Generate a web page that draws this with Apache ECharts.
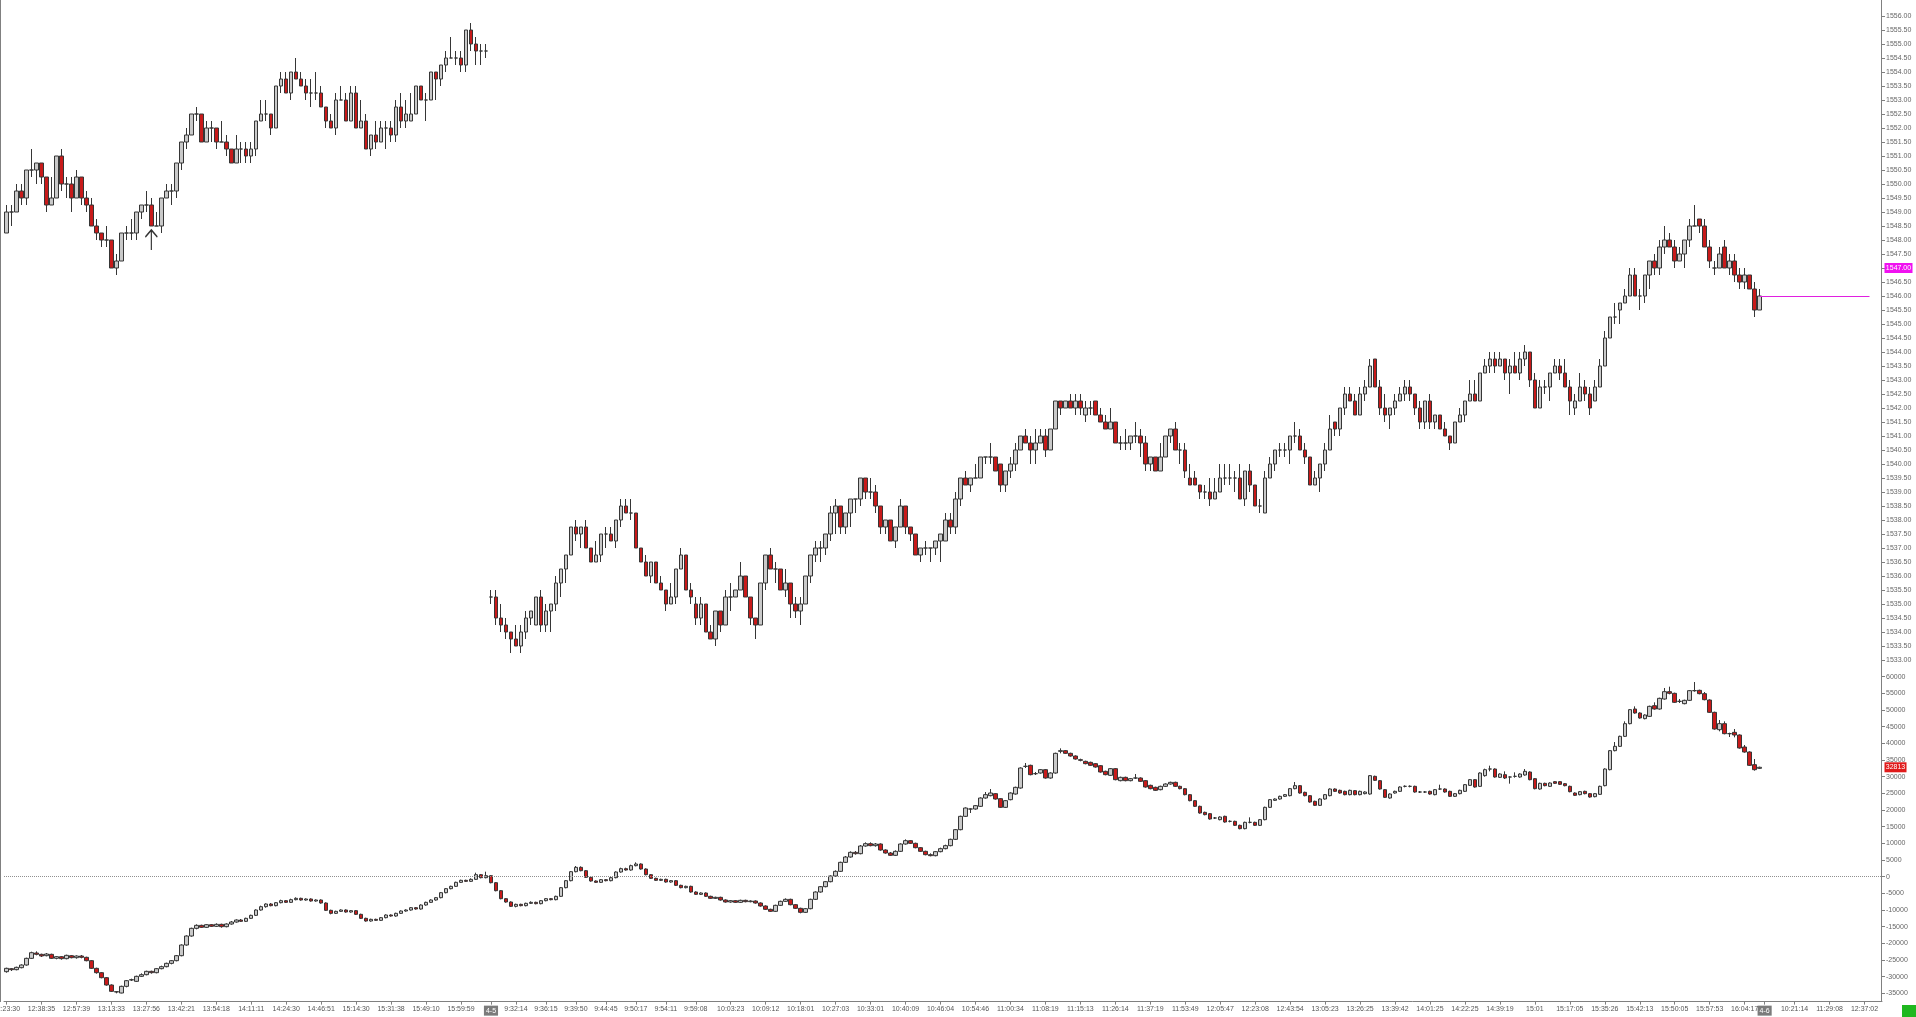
<!DOCTYPE html>
<html><head><meta charset="utf-8">
<script src="https://cdn.jsdelivr.net/npm/echarts/dist/echarts.min.js"></script>
<style>html,body{margin:0;padding:0;background:#fff;overflow:hidden}#c{width:1916px;height:1017px}</style>
</head><body><div id="c"></div>
<script>
// ---------- DATA: [open, close, low, high] ----------
const priceSession1 = [
[1548.25,1549,1548.25,1549.25],[1549,1549,1548.5,1549.25],[1549,1549.75,1549,1550],[1549.75,1549.5,1549.25,1550],[1549.5,1550.5,1549.25,1550.5],
[1550.5,1550.5,1550.25,1551.25],[1550.5,1550.75,1550,1550.75],[1550.75,1550.25,1550,1550.75],[1550.25,1549.25,1549,1550.25],[1549.25,1549.5,1549.25,1550.25],
[1549.5,1551,1549.5,1551],[1551,1550,1549.75,1551.25],[1550,1550,1549.5,1550.25],[1550,1549.5,1549,1550.25],[1549.5,1550.25,1549.5,1550.5],
[1550.25,1549.5,1549.25,1550.25],[1549.5,1549.25,1549,1549.75],[1549.25,1548.5,1548.5,1549.5],[1548.5,1548.25,1548,1548.75],[1548.25,1548,1547.75,1548.25],
[1548,1548,1547.75,1548.5],[1548,1547,1547,1548],[1547,1547.25,1546.75,1547.5],[1547.25,1548.25,1547.25,1548.25],[1548.25,1548.25,1548,1548.5],
[1548.25,1548.25,1548,1548.75],[1548.25,1549,1548,1549],[1549,1549.25,1548.75,1549.25],[1549.25,1549.25,1549,1549.75],[1549.25,1548.5,1548.5,1549.5],
[1548.5,1548.5,1548.5,1549],[1548.5,1549.5,1548.25,1549.5],[1549.5,1549.75,1549.5,1550],[1549.75,1549.75,1549.25,1550],[1549.75,1550.75,1549.5,1550.75],
[1550.75,1551.5,1550.5,1551.5],[1551.5,1551.75,1551.25,1552],[1551.75,1552.5,1551.75,1552.5],[1552.5,1552.5,1552.25,1552.75],[1552.5,1551.5,1551.5,1552.5],
[1551.5,1552,1551.5,1552.25],[1552,1552,1551.5,1552.25],[1552,1551.5,1551.25,1552],[1551.5,1551.5,1551.5,1552.25],[1551.5,1551.25,1551,1551.75],
[1551.25,1550.75,1550.75,1551.25],[1550.75,1551.25,1550.75,1551.75],[1551.25,1551.25,1550.75,1551.5],[1551.25,1551,1550.75,1551.5],[1551,1551.25,1550.75,1551.5],
[1551.25,1552.25,1551,1552.25],[1552.25,1552.5,1552.25,1553],[1552.5,1552.5,1552.25,1553],[1552.5,1552,1551.75,1552.5],[1552,1553.5,1552,1553.5],
[1553.5,1553.75,1553.25,1554],[1553.75,1553.25,1553.25,1554],[1553.25,1554,1553,1554],[1554,1553.75,1553.75,1554.5],[1553.75,1553.5,1553.5,1554],
[1553.5,1553.25,1553,1553.75],[1553.25,1553.25,1552.75,1553.75],[1553.25,1553.25,1553,1554],[1553.25,1552.75,1552.75,1553.5],[1552.75,1552.25,1552,1552.75],
[1552.25,1552,1552,1552.5],[1552,1553,1551.75,1553.25],[1553,1553,1553,1553.5],[1553,1552.25,1552.25,1553.25],[1552.25,1553.25,1552.25,1553.5],
[1553.25,1552,1552,1553.5],[1552,1552.25,1552,1553],[1552.25,1551.25,1551.25,1552.5],[1551.25,1551.75,1551,1551.75],[1551.75,1551.5,1551.25,1552.25],
[1551.5,1552,1551.5,1552.25],[1552,1552,1551.25,1552.25],[1552,1551.75,1551.5,1552.25],[1551.75,1552.75,1551.5,1553],[1552.75,1552.25,1552,1553.25],
[1552.25,1552.5,1552,1553],[1552.25,1552.5,1552.25,1553.25],[1552.5,1553.5,1552.5,1553.5],[1553.5,1553,1553,1553.5],[1553,1553,1552.25,1553.25],
[1553,1554,1553,1554],[1554,1553.75,1553,1554],[1553.75,1554.25,1553.5,1554.25],[1554.25,1554.5,1554,1554.75],[1554.5,1554.5,1554.5,1555.25],
[1554.5,1554.5,1554.25,1554.75],[1554.5,1554.25,1554,1554.75],[1554.25,1555.5,1554,1555.5],[1555.5,1555,1554.75,1555.75],[1555,1554.75,1554.25,1555.25],
[1554.75,1554.75,1554.25,1555],[1554.75,1554.75,1554.5,1555]
];
const priceSession2a = [
[1535.25,1535.25,1535,1535.5],[1535.25,1534.5,1534.25,1535.5],[1534.5,1534.25,1534,1535],[1534.25,1534,1533.75,1534.5],[1534,1533.75,1533.25,1534],
[1533.75,1533.5,1533.5,1534.25],[1533.5,1534,1533.25,1534.25],[1534,1534.5,1533.75,1534.75],[1534.5,1534.75,1534.25,1534.75],[1534.25,1535.25,1534.25,1535.25],
[1535.25,1534.25,1534,1535.5],[1534.25,1534.75,1534,1535],[1534.75,1535,1534,1535],[1535,1535.75,1534.75,1536],[1535.75,1536.25,1535.25,1536.25],
[1536.25,1536.75,1535.75,1536.75],[1536.75,1537.75,1536.75,1537.75],[1537.75,1537.5,1537.25,1538],[1537.5,1537.75,1537,1537.75],[1537.75,1537,1537,1538],
[1537,1536.5,1536.5,1537],[1536.5,1536.75,1536.5,1537.25],[1536.75,1537.5,1536.5,1537.5],[1537.5,1537.5,1537,1537.75],[1537.5,1537.25,1537.25,1537.75],
[1537.25,1538,1537,1538],[1538,1538.5,1537.75,1538.75],[1538.5,1538.25,1538.25,1538.75],[1538.25,1538.25,1538,1538.75],[1538.25,1537,1537,1538.25],
[1537,1536.5,1536.5,1537],[1536.5,1536,1536,1536.75],[1536,1536.5,1535.75,1536.5],[1536.5,1535.75,1535.75,1536.5],[1535.75,1535.5,1535.5,1536],
[1535.5,1535,1534.75,1535.5],[1535,1535.25,1535,1535.75],[1535.25,1536.25,1535,1536.25],[1536.25,1536.75,1536.25,1537],[1536.75,1535.5,1535.5,1536.75],
[1535.5,1535.25,1535,1535.75],[1535,1534.5,1534.25,1535.25],[1534.5,1535,1534.25,1535.25],[1535,1534,1534,1535],[1534,1533.75,1533.75,1534.25],
[1533.75,1534.75,1533.5,1534.75],[1534.75,1534.25,1534,1534.75],[1534.25,1535.25,1534.25,1535.5],[1535.25,1535.25,1534.75,1535.75],[1535.25,1535.5,1535.25,1535.5],
[1535.5,1536,1535.5,1536.5],[1536,1535.25,1535.25,1536],[1535.25,1534.5,1534.25,1535.25],[1534.5,1534.25,1533.75,1534.5],[1534.25,1535.75,1534.25,1535.75],
[1535.75,1536.75,1535.5,1536.75],[1536.75,1536.25,1536.25,1537],[1536.25,1536.25,1535.75,1536.5],[1536.25,1535.5,1535.5,1536.25],[1535.5,1535.75,1535.25,1536.25],
[1535.75,1535,1534.5,1535.75],[1535,1534.75,1534.5,1535.25],[1534.75,1535,1534.25,1535.25],[1535,1536,1535,1536],[1536,1536.75,1535.75,1536.75],
[1536.75,1537,1536.5,1537.25],[1537,1537,1536.5,1537.25],[1537,1537.5,1536.75,1537.5],[1537.5,1538.25,1537.25,1538.5],[1538.25,1538.5,1537.5,1538.75],
[1538.5,1537.75,1537.5,1538.5],[1537.75,1538.25,1537.5,1538.25],[1538.25,1538.75,1537.75,1538.75],[1538.75,1538.75,1538.25,1538.75],[1538.75,1539.5,1538.5,1539.5],
[1539.5,1539,1538.75,1539.5],[1539,1539,1538.75,1539.5],[1539,1538.5,1538.25,1539.25],[1538.5,1537.75,1537.5,1538.5],[1537.75,1538,1537.5,1538],
[1538,1537.25,1537.25,1538],[1537.25,1537.75,1537,1537.75],[1537.75,1538.5,1537.75,1538.75],[1538.5,1537.75,1537.5,1538.5],[1537.75,1537.5,1537.25,1537.75],
[1537.5,1536.75,1536.75,1537.5],[1536.75,1537,1536.5,1537],[1537,1537,1536.75,1537.25],[1537,1537,1536.5,1537],[1537,1537.25,1536.75,1537.25],
[1537.25,1537.5,1536.5,1537.5],[1537.25,1538,1537.25,1538.25],[1538,1537.75,1537.5,1538.25],[1537.75,1538.75,1537.5,1539],[1538.75,1539.5,1538.5,1539.5],
[1539.5,1539.25,1539.25,1539.75],[1539.25,1539.5,1539,1539.5],[1539.5,1539.5,1539.5,1540],[1539.5,1540.25,1539.5,1540.25],[1540.25,1540.25,1540,1540.25],
[1540.25,1540.25,1540,1540.75],[1540.25,1539.75,1539.75,1540.25],[1540,1539.25,1539,1540],[1539.25,1539.75,1539,1539.75],[1539.75,1540,1539.5,1540.25],
[1540,1540.5,1539.75,1540.75],[1540.5,1541,1540.5,1541],[1541,1540.75,1540.75,1541.25],[1540.75,1540.5,1540,1541],[1540.5,1540.75,1540,1541.25],
[1540.75,1541,1540.75,1541.25],[1541,1540.5,1540.25,1541.25],[1540.5,1541.25,1540.5,1541.25],[1541.25,1542.25,1541.25,1542.25],[1542.25,1542,1541.75,1542.25],
[1542,1542.25,1542,1542.25],[1542.25,1542,1542,1542.5],[1542,1542.25,1541.75,1542.5],[1542.25,1542,1541.75,1542.5],[1541.75,1542,1541.5,1542.25],
[1542,1542,1541.75,1542.25],[1542.25,1541.75,1541.75,1542.25],[1541.75,1541.5,1541.5,1542],[1541.5,1541.25,1541.25,1541.75],[1541.25,1541.5,1541.25,1542],
[1541.5,1540.75,1540.75,1541.5],[1540.75,1540.75,1540.5,1541]
];
const priceSession2b = [
[1540.75,1540.75,1540.5,1541.25],[1540.75,1541,1540.5,1541],[1541,1541,1540.75,1541.5],[1541,1540.75,1540.25,1541.25],[1540.75,1540,1539.75,1541],
[1540,1540.25,1539.75,1540.25],[1540.25,1539.75,1539.75,1540.25],[1539.75,1540.25,1539.75,1540.75],[1540.25,1541,1540.25,1541],[1541,1541.25,1540.75,1541.25],
[1541.25,1540.5,1540.5,1541.5],[1540.5,1540.5,1540,1540.75],[1540.5,1539.75,1539.5,1540.75],[1539.5,1539.25,1539.25,1540],[1539.5,1539.25,1539.25,1539.75],
[1539.25,1539,1538.75,1539.25],[1539,1539,1538.75,1539.25],[1539,1538.75,1538.5,1539.5],[1538.75,1539,1538.75,1539.5],[1539,1539.5,1539,1540],
[1539.5,1539.5,1539.25,1540],[1539.5,1539.5,1539.25,1540],[1539.5,1539.5,1539,1539.75],[1539.5,1538.75,1538.75,1540],[1538.75,1539.75,1538.5,1539.75],
[1539.75,1539.25,1539,1540],[1539.25,1538.5,1538.5,1539.25],[1538.5,1538.5,1538.25,1538.75],[1538.25,1539.5,1538.25,1539.75],[1539.5,1540,1539.5,1540.25],
[1540,1540.5,1539.75,1540.5],[1540.5,1540.5,1540.25,1540.75],[1540.5,1540.5,1540.25,1540.75],[1540.5,1541,1540,1541],[1541,1541,1540.75,1541.5],
[1541,1540.5,1540.5,1541.25],[1540.5,1540.25,1540,1540.75],[1540.25,1539.25,1539.25,1540.25],[1539.25,1539.5,1539.25,1539.75],[1539.5,1540,1539,1540],
[1540,1540.5,1539.75,1540.75],[1540.5,1541.25,1540.5,1541.75],[1541.5,1541.25,1541,1541.5],[1541.25,1542,1541,1542],[1542,1542.5,1541.75,1542.75],
[1542.5,1542.25,1542.25,1542.75],[1542.25,1541.75,1541.75,1542.5],[1541.75,1542.5,1541.75,1542.75],[1542.5,1542.75,1542.25,1543],[1542.75,1543.5,1542.75,1543.75],
[1543.75,1542.75,1542.75,1543.75],[1542.75,1542,1541.75,1543],[1542,1541.75,1541.5,1542.5],[1541.75,1542,1541.25,1542],[1542,1542.25,1541.75,1542.5],
[1542.25,1542.5,1542.25,1542.75],[1542.5,1542.75,1542.25,1543],[1542.75,1542.5,1542.25,1543],[1542.5,1542,1541.75,1542.5],[1542,1541.5,1541.25,1542.25],
[1541.5,1542.25,1541.25,1542.25],[1542.25,1541.5,1541.25,1542.5],[1541.5,1541.75,1541.25,1541.75],[1541.75,1541.25,1541.25,1541.75],[1541.25,1541,1541,1541.5],
[1541,1540.75,1540.5,1541],[1540.75,1541.5,1540.75,1541.5],[1541.5,1541.75,1541.5,1542],[1541.75,1542.25,1541.5,1542.25],[1542.25,1542.5,1542.25,1543],
[1542.5,1542.25,1542.25,1543],[1542.25,1543.25,1542.25,1543.25],[1543.25,1543.5,1543.25,1543.75],[1543.5,1543.75,1543.25,1544],[1543.75,1543.5,1543.25,1544],
[1543.5,1543.75,1543.5,1544],[1543.75,1543.25,1543,1543.75],[1543.25,1543.5,1542.5,1543.75],[1543.5,1543.25,1543.25,1544],[1543.25,1543.75,1543,1544],
[1543.75,1544,1543.5,1544.25],[1544,1543,1542.75,1544],[1543,1542,1542,1543.25],[1542,1542.75,1542,1543],[1542.75,1542.75,1542.5,1543],
[1542.75,1543.25,1542.25,1543.25],[1543.25,1543.5,1543.25,1543.75],[1543.5,1543.25,1543,1543.75],[1543.25,1542.75,1542.75,1543.75],[1542.75,1542.25,1541.75,1543],
[1542,1542.25,1541.75,1542.5],[1542.25,1542.75,1542.25,1543.25],[1542.75,1542.5,1542.25,1543],[1542.5,1542,1541.75,1542.75],[1542.25,1542.75,1542.25,1543],
[1542.75,1543.5,1542.75,1543.75],[1543.5,1544.5,1543.5,1544.75],[1544.5,1545.25,1544.5,1545.25],[1545.25,1545.25,1545,1545.75],[1545.5,1545.75,1545,1545.75],
[1545.75,1546,1545.75,1546.25],[1546,1546.75,1546,1547],[1546.75,1546,1546,1547],[1546,1546,1545.5,1546.25],[1546,1546.75,1545.75,1546.75],
[1546.75,1547.25,1546.25,1547.25],[1547.25,1547,1546.75,1547.5],[1547,1547.75,1546.75,1548],[1547.75,1548,1547.5,1548.5],[1548,1547.75,1547.75,1548.25],
[1547.75,1547.25,1547,1548],[1547.25,1547.5,1547.25,1547.75],[1547.5,1548,1547,1548],[1548,1548.5,1547.75,1548.75],[1548.5,1548.5,1548.5,1549.25],
[1548.75,1548.5,1548.25,1548.75],[1548.5,1547.75,1547.75,1548.75],[1547.75,1547.25,1547,1548],[1547,1547,1546.75,1547.25],[1547,1547.5,1547,1547.75],
[1547.75,1547,1547,1548],[1547,1547.25,1546.75,1547.5],[1547.25,1546.75,1546.5,1547.5],[1546.75,1546.5,1546.25,1547],[1546.5,1546.75,1546.25,1547],
[1546.75,1546.25,1546.25,1546.75],[1546.25,1545.5,1545.25,1546.5],[1545.5,1546,1545.5,1546.25]
];
const deltaSession1 = [
[-28500,-27500,-28800,-27300],[-27600,-27900,-28300,-27400],[-27900,-27200,-28100,-27000],[-27300,-26500,-27500,-26300],[-26500,-24500,-26700,-24300],
[-24500,-22800,-24700,-22500],[-22900,-23300,-23600,-22400],[-23300,-23800,-24100,-23100],[-23700,-23200,-23900,-22900],[-23300,-24500,-24700,-23100],
[-24500,-24000,-24800,-23800],[-24000,-24600,-24900,-23800],[-24600,-23600,-24800,-23400],[-23700,-24300,-24500,-23500],[-24300,-23800,-24600,-23600],
[-23800,-24200,-24500,-23500],[-24200,-25200,-25400,-24000],[-25200,-27500,-27700,-25000],[-27500,-28800,-29100,-27300],[-28800,-30300,-30500,-28600],
[-30300,-32500,-32700,-30100],[-32500,-34400,-34600,-32300],[-34500,-34600,-35000,-34300],[-34900,-32900,-35000,-32700],[-32900,-31200,-33200,-31000],
[-31000,-30900,-31300,-30600],[-31400,-29900,-31600,-29700],[-29900,-29400,-30100,-29000],[-29400,-28400,-29600,-28200],[-28400,-28800,-29100,-28200],
[-28800,-27600,-29000,-27400],[-27600,-27000,-27800,-26700],[-27000,-26000,-27200,-25800],[-26000,-25200,-26300,-25000],[-25200,-23700,-25400,-23500],
[-23700,-20500,-23900,-20300],[-20500,-17800,-20700,-17600],[-17800,-15500,-18000,-15300],[-15500,-14600,-15800,-14300],[-14600,-15200,-15400,-14400],
[-15200,-14400,-15400,-14200],[-14400,-14900,-15100,-14200],[-14900,-14300,-15100,-14000],[-14300,-15000,-15300,-14100],[-15000,-14200,-15200,-14000],
[-14200,-13600,-14400,-13300],[-13600,-13000,-13800,-12800],[-13000,-13400,-13600,-12700],[-13400,-12500,-13600,-12300],[-12500,-11600,-12700,-11400],
[-11600,-10000,-11800,-9800],[-10000,-9000,-10200,-8700],[-9000,-8200,-9300,-8000],[-8200,-8700,-8900,-7900],[-8700,-7800,-8900,-7600],
[-7800,-7200,-8000,-6900],[-7200,-7700,-7900,-7000],[-7700,-6900,-7900,-6600],[-6900,-6500,-7100,-6200],[-6500,-7000,-7200,-6300],
[-7000,-6700,-7200,-6500],[-6700,-7300,-7500,-6500],[-7300,-7000,-7500,-6800],[-7000,-7900,-8100,-6800],[-7900,-10100,-10300,-7700],
[-10100,-11000,-11300,-9900],[-11000,-10400,-11200,-10200],[-10400,-10000,-10600,-9800],[-10000,-10600,-10800,-9800],[-10600,-10200,-10800,-10000],
[-10200,-11300,-11500,-10000],[-11300,-12500,-12700,-11100],[-12500,-13300,-13500,-12300],[-13300,-12800,-13500,-12600],[-12800,-13100,-13300,-12600],
[-13100,-12300,-13300,-12100],[-12300,-11500,-12500,-11300],[-11500,-11800,-12000,-11300],[-11800,-11000,-12000,-10800],[-11000,-10300,-11200,-10100],
[-10300,-10000,-10500,-9800],[-10000,-9300,-10200,-9100],[-9300,-9700,-9900,-9100],[-9700,-8500,-9900,-8300],[-8500,-7700,-8700,-7500],
[-7700,-7000,-7900,-6800],[-7000,-6300,-7200,-6100],[-6300,-4800,-6500,-4600],[-4800,-3600,-5000,-3400],[-3600,-2900,-3800,-2700],
[-2900,-1700,-3100,-1500],[-1700,-1100,-1900,-900],[-1100,-1400,-1600,-900],[-1400,-800,-1600,-500],[-800,600,-1000,1200],
[600,-300,-500,800],[-300,300,-500,1500]
];
const deltaSession2 = [
[300,-1800,-2000,500],[-1800,-4200,-4400,-1600],[-4200,-6600,-6800,-4000],[-6600,-7600,-7800,-6400],[-7600,-8900,-9100,-7400],
[-8900,-8300,-9200,-8100],[-8300,-8700,-8900,-8100],[-8700,-8000,-8900,-7800],[-8000,-7700,-8200,-7400],[-7700,-8100,-8300,-7500],
[-8100,-7200,-8300,-7000],[-7200,-6600,-7400,-6400],[-6600,-6900,-7100,-6400],[-6900,-5900,-7100,-5700],[-5900,-3300,-6100,-3100],
[-3300,-1200,-3500,-1000],[-1200,1500,-1400,1700],[1500,2800,1300,3200],[2800,1800,1600,3100],[1800,-200,-400,2000],
[-200,-1300,-1500,0],[-1300,-1700,-1900,-1100],[-1700,-900,-1900,-700],[-900,-1200,-1400,-700],[-1200,-300,-1400,-100],
[-300,1400,-500,1600],[1400,2400,1200,2700],[2400,2000,1800,2700],[2000,3300,1800,3600],[3300,3800,3100,4300],
[3800,2300,2100,4000],[2300,600,400,2500],[600,-500,-700,800],[-500,-1100,-1300,-300],[-1100,-800,-1300,-600],
[-800,-1600,-1800,-600],[-1600,-1200,-1800,-1000],[-1200,-2600,-2800,-1000],[-2600,-3300,-3500,-2400],[-3300,-2900,-3500,-2700],
[-2900,-4600,-4800,-2700],[-4600,-5300,-5500,-4400],[-5300,-4900,-5500,-4700],[-4900,-5900,-6100,-4700],[-5900,-6500,-6700,-5700],
[-6500,-6200,-6700,-6000],[-6200,-7000,-7200,-6000],[-7000,-7600,-7800,-6800],[-7600,-7200,-7800,-7000],[-7200,-7700,-7900,-7000],
[-7700,-7100,-7900,-6900],[-7100,-7500,-7700,-6900],[-7500,-7300,-7700,-7100],[-7300,-7900,-8100,-7100],[-7900,-8800,-9000,-7700],
[-8800,-9800,-10000,-8600],[-9800,-10400,-10600,-9600],[-10400,-8600,-10600,-8400],[-8600,-7400,-8800,-7200],[-7400,-6800,-7600,-6500],
[-6800,-8400,-8600,-6600],[-8400,-9500,-9700,-8200],[-9500,-10700,-11000,-9300],[-10700,-9600,-10900,-9400],[-9600,-6800,-9800,-6600],
[-6800,-4600,-7000,-4400],[-4600,-3000,-4800,-2800],[-3000,-1500,-3200,-1300],[-1500,200,-1700,400],[200,1600,0,1900],
[1600,4300,1400,4500],[4300,5900,4100,6200],[5900,7300,5700,7600],[7300,6900,6600,7700],[6900,9200,6700,9500],
[9200,9900,9000,10300],[9900,9300,9100,10300],[9300,9800,9000,10100],[9800,8000,7800,10000],[8000,7100,6900,8200],
[7100,6400,6200,7400],[6400,7600,6200,7900],[7600,9800,7400,10000],[9800,10800,9600,11200],[10800,10000,9800,11000],
[10000,8700,8500,10200],[8700,7600,7400,8900],[7600,6600,6400,7800],[6600,6300,6100,7000],[6300,7500,6100,7700],
[7500,8400,7300,8700],[8400,9300,8200,9600],[9300,11200,9100,11400],[11200,14100,11000,14300],[14100,18100,13900,18300],
[18100,20600,17900,20800],[20300,20300,19100,20500],[20300,21300,20100,21500],[21100,23600,20900,23800],[23600,24600,23400,25400],
[24300,25100,24100,26300],[24900,23300,23100,25100],[23400,20800,20600,23600],[20800,22800,20600,23000],[23100,25100,22900,25300],
[24800,26800,24600,27000],[26600,32600,26400,32800],[33100,33100,32600,34100],[33400,30600,30400,33600],[30900,30900,30500,31400],
[31100,32100,30900,32300],[32100,29600,29400,32300],[29600,31100,29400,31300],[31100,37000,30900,37200],[37600,37800,37000,38500],
[37800,37000,36800,38000],[37000,36200,36000,37200],[36200,35300,35100,36400],[35100,34900,34600,35400],[34600,33900,33700,34800],
[34300,33400,33200,34500],[33900,32900,32700,34100],[33300,31400,31200,33500],[31600,30600,30400,31800],[30400,32400,30200,32600],
[32400,29100,28900,32600],[28800,29800,28600,30000],[29800,28800,28600,30000],[28800,29400,28600,29600],[29600,29600,29300,30800],
[29600,28600,28400,29800],[28800,26900,26700,29000],[27400,26400,26200,27600],[26800,25900,25700,27000],[26100,27100,25900,27300],
[27100,27800,26900,28000],[27800,28300,27600,28500],[28300,27100,26900,28500],[27100,26400,26200,27300],[26400,24600,24400,26600],
[24600,22800,22600,24800],[22800,21100,20900,23000],[21100,19100,18900,21300],[19300,18600,18400,19500],[18900,17300,17100,19100],
[17600,17600,17300,17900],[17100,17900,16900,18100],[18100,16400,16200,18300],[16600,16600,16300,16900],[16600,15400,15200,16800],
[15400,14400,14200,15600],[14400,16300,14200,16500],[16300,16300,16000,17800],[16300,15400,15200,16500],[15400,17100,15200,17300],
[17100,20800,16900,21000],[20800,23100,20600,23300],[22900,23300,22700,23500],[23300,24100,23100,24300],[24100,24600,23900,24800],
[24300,26400,24100,26600],[26400,27300,26200,28400],[27300,25100,24900,27500],[25300,24300,24100,25500],[24300,22400,22200,24500],
[22600,21400,21200,22800],[21400,23300,21200,23500],[23300,24600,23100,24800],[24300,26300,24100,26500],[26300,25600,25400,26500],
[25900,25100,24900,26100],[25600,24600,24400,25800],[24600,25900,24400,26100],[25800,24600,24400,26000],[24600,25600,24400,25800],
[24900,25400,24700,25600],[24800,30300,24600,30500],[30100,28900,28700,30300],[28800,26300,26100,29000],[26100,23800,23600,26300],
[23600,24800,23400,25000],[25100,25600,24900,25800],[25600,26900,25400,27100],[27100,27100,26800,27400],[27100,27100,26800,27400],
[27100,25400,25200,27300],[25400,25400,25100,25700],[25400,25400,25100,25700],[25600,24800,24600,25800],[24600,26100,24400,26300],
[26300,26300,26000,27600],[26300,25400,25200,26500],[25600,24100,23900,25800],[24100,24900,23900,25100],[24900,25900,24700,26100],
[25600,27600,25400,27800],[27400,29100,27200,29300],[29100,26900,26700,29300],[27100,31100,26900,31300],[30300,32100,30000,32400],
[32300,32300,31600,33300],[32300,29900,29700,32500],[29800,30800,29600,31000],[30600,29600,29300,31600],[29900,29900,27900,30100],
[30100,30100,29700,31300],[29900,30800,29700,31000],[30500,31600,30300,32300],[31400,29100,28900,31600],[29400,26400,26200,29600],
[26300,28000,26100,28200],[28000,27300,27100,28200],[27100,28100,26900,28300],[28500,28000,27800,28700],[28500,27700,27500,28700],
[27900,27300,27100,28100],[27100,25500,25300,27300],[25100,24400,24200,25300],[24600,25500,24400,25700],[25600,24900,24700,25800],
[24900,23900,23700,25100],[24000,24900,23800,25100],[24700,27100,24500,27300],[27300,32300,27100,32500],[32100,37800,31900,38000],
[37800,39100,37600,40400],[39100,42100,38900,42300],[42100,45900,41900,46600],[45900,50100,45700,50300],[50300,49100,48900,51100],
[49100,47600,47400,49300],[47400,48500,47200,48700],[48100,51100,47900,51300],[51300,50300,50100,52300],[50300,53500,50100,53700],
[53300,55500,53100,56600],[55500,55000,54700,57000],[55000,52300,52100,55200],[52600,52600,52100,53300],[51900,52900,51700,53100],
[52900,55800,52700,56000],[55800,55800,55500,58400],[55900,54900,54700,56100],[54900,53100,52900,55400],[53000,49300,49100,53200],
[49300,44300,44100,49500],[44100,45900,43600,47000],[45900,42900,42700,46600],[42900,42900,41900,43200],[43300,42500,41800,44300],
[42500,38600,38400,42700],[38900,37400,37200,39500],[37400,33400,33200,37600],[33600,32100,31800,35300],[32500,32813,32300,33000]
];
const categoryCount = 376;
const tickIndex = [0,7,14,21,28,35,42,49,56,63,70,77,84,91,97,
  102,108,114,120,126,132,138,145,152,159,166,173,180,187,194,201,208,215,222,229,236,243,250,257,264,271,278,285,292,299,306,313,320,327,334,341,348,352,358,365,372];
const tickText = ['12:23:30','12:38:35','12:57:39','13:13:33','13:27:56','13:42:21','13:54:18','14:11:11','14:24:30','14:46:51','15:14:30','15:31:38','15:49:10','15:59:59','4-5',
  '9:32:14','9:36:15','9:39:50','9:44:45','9:50:17','9:54:11','9:59:08','10:03:23','10:09:12','10:18:01','10:27:03','10:33:01','10:40:09','10:46:04','10:54:46','11:00:34','11:08:19','11:15:13','11:26:14','11:37:19','11:53:49','12:05:47','12:23:08','12:43:54','13:05:23','13:26:25','13:39:42','14:01:25','14:22:25','14:39:19','15:01','15:17:05','15:35:26','15:42:13','15:50:05','15:57:53','16:04:17','4-6','10:21:14','11:29:08','12:37:02'];
const dateTicks = ['4-5','4-6'];
const lastPriceBoxText = '1547.00';
const lastPriceBoxValue = 1547;
const lastPriceLineValue = 1546;
const lastDeltaValue = 32813;
const arrowAt = [29, 1548.0];

// ---------- CHART ----------
const FONT = 'Liberation Sans';
const FS = 7;
const cats = Array.from({length: categoryCount}, (_, i) => String(i));
const labelMap = {};
tickIndex.forEach((k, j) => { labelMap[k] = tickText[j]; });
const priceData = priceSession1.concat(priceSession2a, priceSession2b);
const deltaData = deltaSession1.concat(deltaSession2);
const lastIdx = priceData.length - 1;
const candleStyle = {color: '#c9c9c9', color0: '#c81a1a', borderColor: '#363636', borderColor0: '#363636', borderWidth: 1};
const showTick = (i) => labelMap[i] !== undefined;

const chart = echarts.init(document.getElementById('c'), null, {renderer: 'canvas'});
const option = {
  animation: false,
  backgroundColor: '#ffffff',
  textStyle: {fontFamily: FONT},
  grid: [
    {left: 4, right: 34, top: 2, height: 672, containLabel: false, outerBoundsMode: 'none'},
    {left: 4, right: 34, top: 676.67, height: 316.67, containLabel: false, outerBoundsMode: 'none'}
  ],
  xAxis: [
    {type: 'category', gridIndex: 0, data: cats, boundaryGap: true,
     axisLine: {show: false, onZero: false}, axisTick: {show: false}, axisLabel: {show: false}, splitLine: {show: false}},
    {type: 'category', gridIndex: 1, data: cats, boundaryGap: true, offset: 8.3, position: 'bottom',
     axisLine: {show: true, onZero: false, lineStyle: {color: '#808080', width: 1}},
     axisTick: {show: true, interval: showTick, alignWithLabel: true, length: 3, lineStyle: {color: '#808080'}},
     axisLabel: {show: true, interval: showTick, margin: 4, fontSize: FS, color: '#555', fontFamily: FONT, hideOverlap: false,
       formatter: (v) => { const t = labelMap[+v]; if (t === undefined) return ''; return dateTicks.includes(t) ? '{box|' + t + '}' : t; },
       rich: {box: {backgroundColor: '#7b7b7b', color: '#ffffff', fontSize: FS, fontFamily: FONT, padding: [2, 2, 1, 2]}}},
     splitLine: {show: false}}
  ],
  yAxis: [
    {type: 'value', gridIndex: 0, position: 'right', min: 1532.5, max: 1556.5, interval: 0.5,
     axisLine: {show: false}, axisTick: {show: true, length: 3, lineStyle: {color: '#808080'}},
     axisLabel: {fontSize: FS, color: '#666', fontFamily: FONT, margin: 4, showMinLabel: false, showMaxLabel: false,
       formatter: (v) => v.toFixed(2)},
     splitLine: {show: false}},
    {type: 'value', gridIndex: 1, position: 'right', min: -35000, max: 60000, interval: 5000,
     axisLine: {show: false}, axisTick: {show: true, length: 3, lineStyle: {color: '#808080'}},
     axisLabel: {fontSize: FS, color: '#666', fontFamily: FONT, margin: 4, formatter: (v) => String(v)},
     splitLine: {show: false}}
  ],
  series: [
    {type: 'candlestick', xAxisIndex: 0, yAxisIndex: 0, data: priceData, barWidth: 4, itemStyle: candleStyle, clip: false,
     markLine: {silent: true, symbol: 'none', animation: false,
       lineStyle: {color: '#e020e0', width: 1, type: 'solid'}, label: {show: false},
       data: [[{coord: [lastIdx, lastPriceLineValue]}, {coord: [373, lastPriceLineValue]}]]},
     markPoint: {silent: true, animation: false, data: [
       {coord: [categoryCount - 1, lastPriceBoxValue], symbol: 'rect', symbolSize: [28, 10], symbolOffset: [19, 0],
        itemStyle: {color: '#f011f0'},
        label: {show: true, position: 'inside', formatter: lastPriceBoxText, color: '#ffffff', fontSize: FS, fontFamily: FONT}},
       {coord: arrowAt, symbol: 'path://M0,7 L6,0 L12,7 M6,0 L6,20', symbolSize: [12, 20], symbolKeepAspect: false,
        itemStyle: {color: 'rgba(0,0,0,0)', borderColor: '#333', borderWidth: 1.5}, label: {show: false}}
     ]}},
    {type: 'candlestick', xAxisIndex: 1, yAxisIndex: 1, data: deltaData, barWidth: 4, itemStyle: candleStyle, clip: false,
     markLine: {silent: true, symbol: 'none', animation: false,
       lineStyle: {color: '#909090', width: 1, type: 'dotted'}, label: {show: false},
       data: [{yAxis: 0}]},
     markPoint: {silent: true, animation: false, data: [
       {coord: [categoryCount - 1, lastDeltaValue], symbol: 'rect', symbolSize: [22, 10], symbolOffset: [16, 0],
        itemStyle: {color: '#e01b1b'},
        label: {show: true, position: 'inside', formatter: String(lastDeltaValue), color: '#ffffff', fontSize: FS, fontFamily: FONT}}
     ]}}
  ],
  graphic: [
    {type: 'line', silent: true, shape: {x1: 1881.5, y1: 0, x2: 1881.5, y2: 1002}, style: {stroke: '#808080', lineWidth: 1}},
    {type: 'line', silent: true, shape: {x1: 0.5, y1: 0, x2: 0.5, y2: 1002}, style: {stroke: '#808080', lineWidth: 1}},
    {type: 'rect', silent: true, shape: {x: 1902, y: 1005, width: 14, height: 12}, style: {fill: '#1fb81f'}}
  ]
};
chart.setOption(option);
</script>
</body></html>
